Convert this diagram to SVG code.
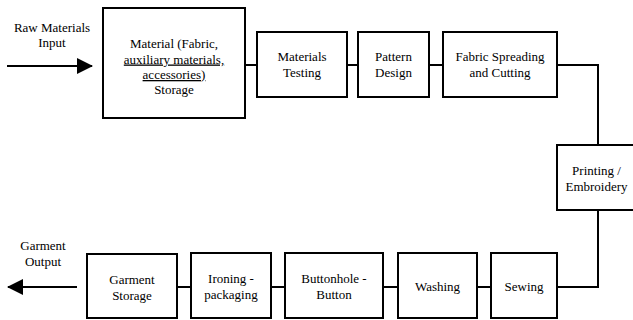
<svg xmlns="http://www.w3.org/2000/svg" width="633" height="320" viewBox="0 0 633 320">
<defs>
<style>
.box{fill:#fff;stroke:#000;stroke-width:2}
.ln{fill:none;stroke:#000;stroke-width:2}
.t text{font-family:Liberation Serif, DejaVu Serif, serif;font-size:13px;fill:#000;text-anchor:middle}
.u{text-decoration:underline}
</style>
<marker id="ah" viewBox="0 0 16 16" refX="15" refY="8" markerWidth="16" markerHeight="16" markerUnits="userSpaceOnUse" orient="auto">
<path d="M0,0 L16,8 L0,16 Z" fill="#000"/>
</marker>
</defs>
<rect width="633" height="320" fill="#fff"/>
<g id="connectors">
<line class="ln" x1="7" y1="66" x2="92" y2="66" marker-end="url(#ah)"/>
<line class="ln" x1="77" y1="287" x2="8" y2="287" marker-end="url(#ah)"/>
<line class="ln" x1="245" y1="65" x2="257" y2="65"/>
<line class="ln" x1="347" y1="65" x2="358" y2="65"/>
<line class="ln" x1="429" y1="65" x2="443" y2="65"/>
<polyline class="ln" points="557,65 598,65 598,145"/>
<polyline class="ln" points="598,210 598,287 557,287"/>
<line class="ln" x1="477" y1="287" x2="491" y2="287"/>
<line class="ln" x1="383" y1="287" x2="398" y2="287"/>
<line class="ln" x1="271" y1="287" x2="285" y2="287"/>
<line class="ln" x1="177" y1="287" x2="191" y2="287"/>
</g>
<g id="raw-input" class="t">
<text x="52" y="32">Raw Materials</text>
<text x="52" y="47">Input</text>
</g>
<g id="garment-output" class="t">
<text x="43" y="250">Garment</text>
<text x="43" y="266">Output</text>
</g>
<g id="material-storage" class="t">
<rect class="box" x="103" y="8" width="142" height="110"/>
<text x="174" y="47.5">Material (Fabric,</text>
<text x="174" y="63.5" class="u">auxiliary materials,</text>
<text x="174" y="79" class="u">accessories)</text>
<text x="174" y="94">Storage</text>
</g>
<g id="materials-testing" class="t">
<rect class="box" x="257" y="32" width="90" height="65"/>
<text x="302" y="61">Materials</text>
<text x="302" y="77">Testing</text>
</g>
<g id="pattern-design" class="t">
<rect class="box" x="358" y="32" width="71" height="65"/>
<text x="393.5" y="61">Pattern</text>
<text x="393.5" y="77">Design</text>
</g>
<g id="fabric-spreading" class="t">
<rect class="box" x="443" y="32" width="114" height="65"/>
<text x="500" y="61">Fabric Spreading</text>
<text x="500" y="77">and Cutting</text>
</g>
<g id="printing" class="t">
<rect class="box" x="557" y="145" width="80" height="65"/>
<text x="596.5" y="175">Printing /</text>
<text x="596.5" y="191">Embroidery</text>
</g>
<g id="sewing" class="t">
<rect class="box" x="491" y="253" width="66" height="65"/>
<text x="524" y="290.5">Sewing</text>
</g>
<g id="washing" class="t">
<rect class="box" x="398" y="253" width="79" height="65"/>
<text x="437.5" y="290.5">Washing</text>
</g>
<g id="buttonhole" class="t">
<rect class="box" x="285" y="253" width="98" height="65"/>
<text x="334" y="283">Buttonhole -</text>
<text x="334" y="298.5">Button</text>
</g>
<g id="ironing" class="t">
<rect class="box" x="191" y="253" width="80" height="65"/>
<text x="231" y="283">Ironing -</text>
<text x="231" y="299">packaging</text>
</g>
<g id="garment-storage" class="t">
<rect class="box" x="87" y="254" width="90" height="64"/>
<text x="132" y="284">Garment</text>
<text x="132" y="300">Storage</text>
</g>
</svg>
